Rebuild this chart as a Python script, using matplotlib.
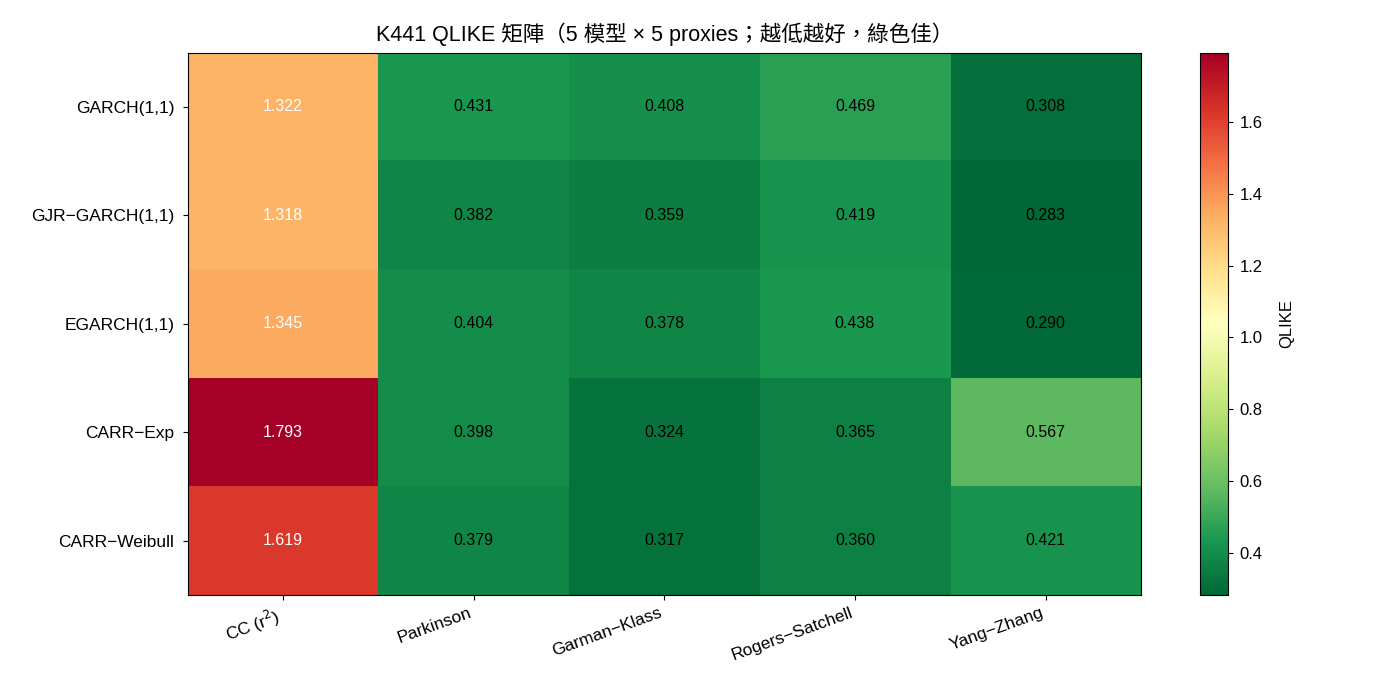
import numpy as np
import matplotlib
matplotlib.use("Agg")
import matplotlib.pyplot as plt

plt.rcParams['font.family'] = ['Liberation Sans', 'Noto Sans CJK TC', 'DejaVu Sans']
plt.rcParams['axes.unicode_minus'] = True

models = ["GARCH(1,1)", "GJR-GARCH(1,1)", "EGARCH(1,1)", "CARR-Exp", "CARR-Weibull"]
proxies = ["CC (r$^2$)", "Parkinson", "Garman-Klass", "Rogers-Satchell", "Yang-Zhang"]

qlike_cc = [1.322, 1.318, 1.345, 1.793, 1.619]
qlike_parkinson = [0.431, 0.382, 0.404, 0.398, 0.379]
qlike_gk = [0.408, 0.359, 0.378, 0.324, 0.317]
qlike_rs = [0.469, 0.419, 0.438, 0.365, 0.360]
qlike_yz = [0.308, 0.283, 0.290, 0.567, 0.421]

mat = np.column_stack([qlike_cc, qlike_parkinson, qlike_gk, qlike_rs, qlike_yz])

fig, ax = plt.subplots(figsize=(14, 7), dpi=100)
fig.subplots_adjust(left=0.134, right=0.815, top=0.925, bottom=0.15)

im = ax.imshow(mat, cmap="RdYlGn_r", aspect="auto",
               vmin=mat.min(), vmax=mat.max())

# real minus signs in the labels, like the original
ax.set_xticks(range(len(proxies)))
ax.set_xticklabels([p.replace("-", "\u2212") for p in proxies],
                   rotation=20, ha="right", fontsize=12.5)
ax.set_yticks(range(len(models)))
ax.set_yticklabels([m.replace("-", "\u2212") for m in models], fontsize=12.5)
ax.tick_params(axis="y", pad=6)

mid = (mat.min() + mat.max()) / 2
for i in range(mat.shape[0]):
    for j in range(mat.shape[1]):
        v = mat[i, j]
        ax.text(j, i, f"{v:.3f}", ha="center", va="center", fontsize=11.5,
                color="white" if v > mid else "black")

ax.set_title("K441 QLIKE 矩陣（5 模型 × 5 proxies；越低越好，綠色佳）", fontsize=15.5, pad=8)

cax = fig.add_axes([0.857, 0.15, 0.02, 0.775])
cb = fig.colorbar(im, cax=cax)
cb.set_label("QLIKE", fontsize=12, labelpad=12)
cb.ax.tick_params(labelsize=12, pad=5)

fig.savefig("out.png")
